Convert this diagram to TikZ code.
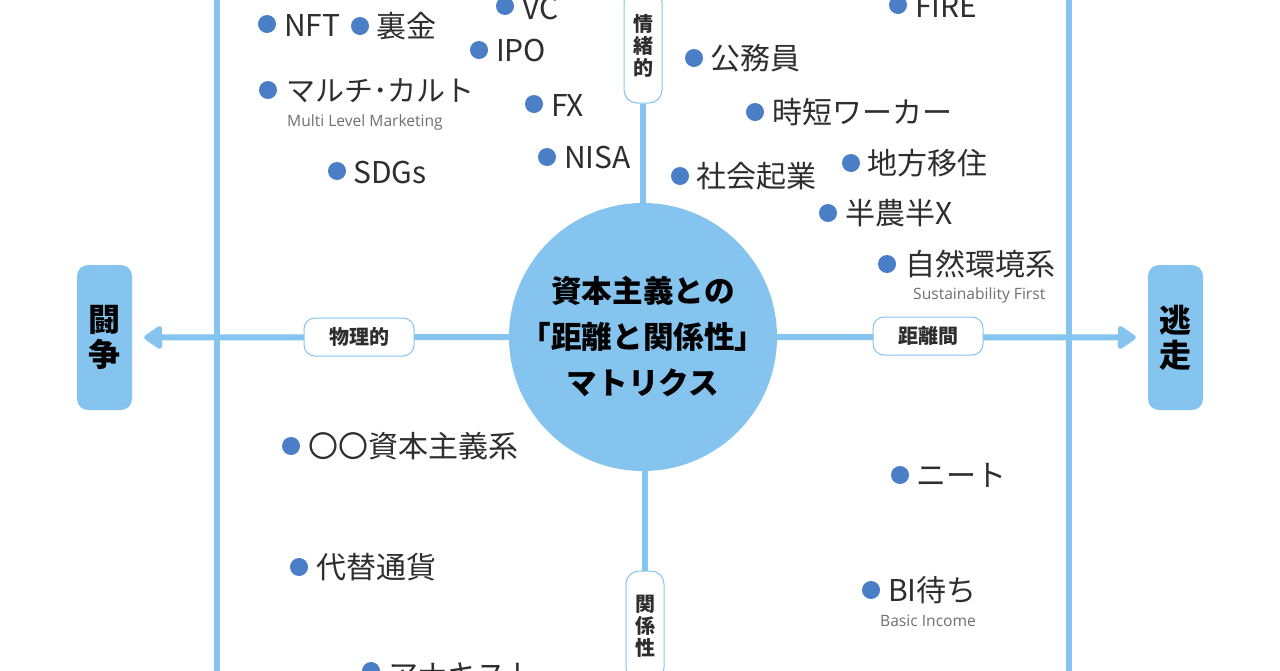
\documentclass[tikz,border=0pt]{standalone}
\usepackage{fontspec}
\setmainfont{Noto Sans CJK JP}
\newfontfamily\subfont{Open Sans}
\usetikzlibrary{arrows.meta}
\definecolor{sky}{HTML}{84C4EE}
\definecolor{dotblue}{HTML}{4A7EC6}
\definecolor{ink}{HTML}{2E2E2E}
\definecolor{subgray}{HTML}{707070}
\pgfdeclarelayer{under}
\pgfsetlayers{under,main}
\newcommand{\hubline}[1]{\makebox[0pt][c]{\raisebox{-6pt}{#1}}}
\newcommand{\lowered}[2]{\raisebox{-#1pt}{#2}}
\tikzset{
  axis/.style={draw=sky,line width=6pt},
  frameline/.style={draw=sky,line width=6pt},
  dotmark/.style={circle,fill=dotblue,minimum size=18pt,inner sep=0pt},
  lbl/.style={anchor=west,inner sep=0pt,text=ink,yshift=-3.5pt,font=\fontsize{30}{32}\selectfont,text height=22pt,text depth=6pt},
  sublbl/.style={anchor=west,inner sep=0pt,text=subgray,yshift=-1pt,font=\subfont\fontsize{15.6}{17}\selectfont},
  endbox/.style={rectangle,rounded corners=11pt,fill=sky,minimum width=55pt,minimum height=145pt,inner sep=0pt,align=center,font=\fontsize{32}{35}\bfseries\selectfont,text=black},
  pillh/.style={rectangle,rounded corners=11pt,draw=sky,line width=1pt,fill=white,minimum width=110pt,minimum height=38pt,inner sep=0pt,font=\fontsize{20}{22}\bfseries\selectfont,text=ink},
  pillv/.style={rectangle,rounded corners=13pt,draw=sky,line width=1pt,fill=white,minimum width=38pt,inner sep=0pt,align=center,font=\fontsize{20}{22}\bfseries\selectfont,text=ink},
  hub/.style={circle,fill=sky,minimum size=268pt,inner sep=0pt,align=center,font=\fontsize{30.6}{46}\bfseries\selectfont,text=black},
}
\begin{document}
\begin{tikzpicture}[x=1pt,y=-1pt]
\useasboundingbox (0,0) rectangle (1280,670);
\clip (0,0) rectangle (1280,670);
% frame lines
\coordinate (ftl) at (217,-10); \coordinate (fbl) at (217,680);
\coordinate (ftr) at (1069,-10); \coordinate (fbr) at (1069,680);
% nodes
\node[hub] (hubc) at (643,337) {\hubline{資本主義との}\\\hubline{「距離と関係性」}\\\hubline{マトリクス}};
\node[endbox] (fight) at (104.5,337.5) {闘\\争};
\node[endbox] (flee) at (1175.5,337.5) {逃\\走};
\node[pillh] (phys) at (359,337) {\lowered{1}{物理的}};
\node[pillh] (dist) at (928,336) {\lowered{1}{距離間}};
\node[pillv,minimum height=114pt] (emo) at (643,46) {\lowered{2}{情}\\\lowered{2}{緒}\\\lowered{2}{的}};
\node[pillv,minimum height=110pt] (rel) at (645,626) {関\\係\\性};
% connectors
\begin{pgfonlayer}{under}
\fill[white] (0,0) rectangle (1280,670);
\draw[frameline] (ftl) -- (fbl);
\draw[frameline] (ftr) -- (fbr);
\draw[axis,-{Triangle[length=20pt,width=26pt,round]},shorten >=12pt] (hubc) -- (fight);
\draw[axis,-{Triangle[length=20pt,width=26pt,round]},shorten >=12pt] (hubc) -- (flee);
\draw[axis] (emo.south) -- (emo.south |- hubc.center);
\draw[axis] (rel.north) -- (rel.north |- hubc.center);
\end{pgfonlayer}
% items
\node[dotmark] (d1) at (267,24) {};  \node[lbl] (t1) at (284,25) {NFT};
\node[dotmark] (d2) at (360,26) {};  \node[lbl] (t2) at (376,26) {裏金};
\node[dotmark] (d3) at (505,6) {};   \node[lbl] (t3) at (522,8) {VC};
\node[dotmark] (d4) at (479,50) {};  \node[lbl] (t4) at (496,50) {IPO};
\node[dotmark] (d5) at (268,90) {};  \node[lbl,font=\fontsize{29}{32}\selectfont] (t5) at (286,90) {マルチ･カルト};
\node[sublbl] (s5) at (287,121) {Multi Level Marketing};
\node[dotmark] (d6) at (534,104) {}; \node[lbl] (t6) at (551,105) {FX};
\node[dotmark] (d7) at (547,157) {}; \node[lbl] (t7) at (564,157) {NISA};
\node[dotmark] (d8) at (337,171) {}; \node[lbl] (t8) at (353,172) {SDGs};
\node[dotmark] (d9) at (898,5) {};   \node[lbl] (t9) at (915,6) {FIRE};
\node[dotmark] (d10) at (694,58) {}; \node[lbl] (t10) at (710,58) {公務員};
\node[dotmark] (d11) at (755,112) {};\node[lbl] (t11) at (772,112) {時短ワーカー};
\node[dotmark] (d12) at (680,176) {};\node[lbl] (t12) at (696,176) {社会起業};
\node[dotmark] (d13) at (851,163) {};\node[lbl] (t13) at (867,163) {地方移住};
\node[dotmark] (d14) at (828,213) {};\node[lbl] (t14) at (845,213) {半農半X};
\node[dotmark] (d15) at (887,264) {};\node[lbl] (t15) at (905,264) {自然環境系};
\node[sublbl] (s15) at (913,294) {Sustainability First};
\node[dotmark] (d16) at (291,446) {};\node[lbl] (t16) at (308,446) {〇〇資本主義系};
\node[dotmark] (d17) at (900,475) {};\node[lbl] (t17) at (916,475) {ニート};
\node[dotmark] (d18) at (299,567) {};\node[lbl] (t18) at (316,567) {代替通貨};
\node[dotmark] (d19) at (871,590) {};\node[lbl] (t19) at (888,590) {BI待ち};
\node[sublbl] (s19) at (880,620) {Basic Income};
\node[dotmark] (d20) at (371,671) {};\node[lbl] (t20) at (388,675) {アナキスト};
\end{tikzpicture}
\end{document}
